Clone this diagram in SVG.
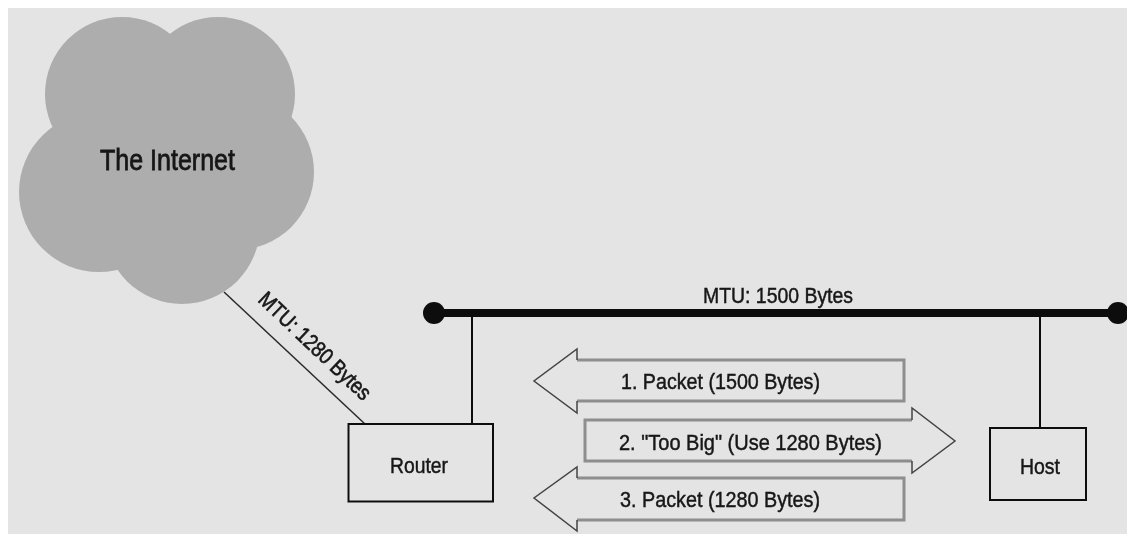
<svg xmlns="http://www.w3.org/2000/svg" width="1127" height="534" viewBox="0 0 1127 534">
<style>
text{font-family:"Liberation Sans",Arial,sans-serif;fill:#161616;stroke:#161616;stroke-width:.45;font-size:22px}
.box{fill:#e4e4e4;stroke:#111;stroke-width:2}
.wire{fill:none;stroke:#111;stroke-width:2}
.edge{fill:none;stroke:#8e8e8e;stroke-width:3}
.head{fill:none;stroke:#444;stroke-width:1.5}
</style>
<defs><filter id="soft" x="-5%" y="-5%" width="110%" height="110%"><feGaussianBlur stdDeviation="0.55"/></filter></defs>
<rect width="1127" height="534" fill="#fff"/>
<rect x="8" y="8" width="1119" height="526" fill="#e4e4e4"/>
<g filter="url(#soft)">
<g id="cloud" fill="#adadad">
<circle cx="122" cy="94" r="77"/><circle cx="218" cy="94" r="77"/><circle cx="99" cy="192" r="80"/><circle cx="236" cy="172" r="78"/><circle cx="182" cy="226" r="78"/><circle cx="170" cy="160" r="70"/>
<text x="100" y="170" textLength="135" lengthAdjust="spacingAndGlyphs" style="font-size:30px;stroke-width:.8">The Internet</text>
</g>
<g id="connectors">
<line class="wire" x1="224" y1="292" x2="365" y2="424" style="stroke-width:1.5;stroke:#2a2a2a"/>
<line class="wire" x1="472" y1="313" x2="472" y2="424"/>
<line class="wire" x1="1040" y1="313" x2="1040" y2="428"/>
<line x1="434" y1="313" x2="1118" y2="313" stroke="#0c0c0c" stroke-width="8"/>
<circle cx="434" cy="313" r="11" fill="#0c0c0c"/>
<circle cx="1118" cy="313" r="11" fill="#0c0c0c"/>
<text x="703" y="303" textLength="150" lengthAdjust="spacingAndGlyphs">MTU: 1500 Bytes</text>
<text transform="translate(257 301) rotate(43.500)" textLength="146" lengthAdjust="spacingAndGlyphs" style="stroke-width:.6">MTU: 1280 Bytes</text>
</g>
<g id="router">
<rect class="box" x="348.500" y="424" width="144.500" height="77.500"/>
<text x="390" y="473" textLength="58" lengthAdjust="spacingAndGlyphs">Router</text>
</g>
<g id="host">
<rect class="box" x="990" y="428" width="96" height="72"/>
<text x="1020" y="474" textLength="40" lengthAdjust="spacingAndGlyphs">Host</text>
</g>
<g id="arrow1">
<path class="edge" d="M577 360H904V401H577"/>
<path class="head" d="M577 360V349L534 381L577 413V401"/>
<text x="621" y="389" textLength="199" lengthAdjust="spacingAndGlyphs">1. Packet (1500 Bytes)</text>
</g>
<g id="arrow2">
<path class="edge" d="M912 420H585V461H912"/>
<path class="head" d="M912 420V408L955 441L912 473V461"/>
<text x="619" y="450" textLength="263" lengthAdjust="spacingAndGlyphs">2. "Too Big" (Use 1280 Bytes)</text>
</g>
<g id="arrow3">
<path class="edge" d="M577 478H904V520H577"/>
<path class="head" d="M577 478V467L534 498L577 531V520"/>
<text x="620" y="507" textLength="200" lengthAdjust="spacingAndGlyphs">3. Packet (1280 Bytes)</text>
</g>
</g>
</svg>
